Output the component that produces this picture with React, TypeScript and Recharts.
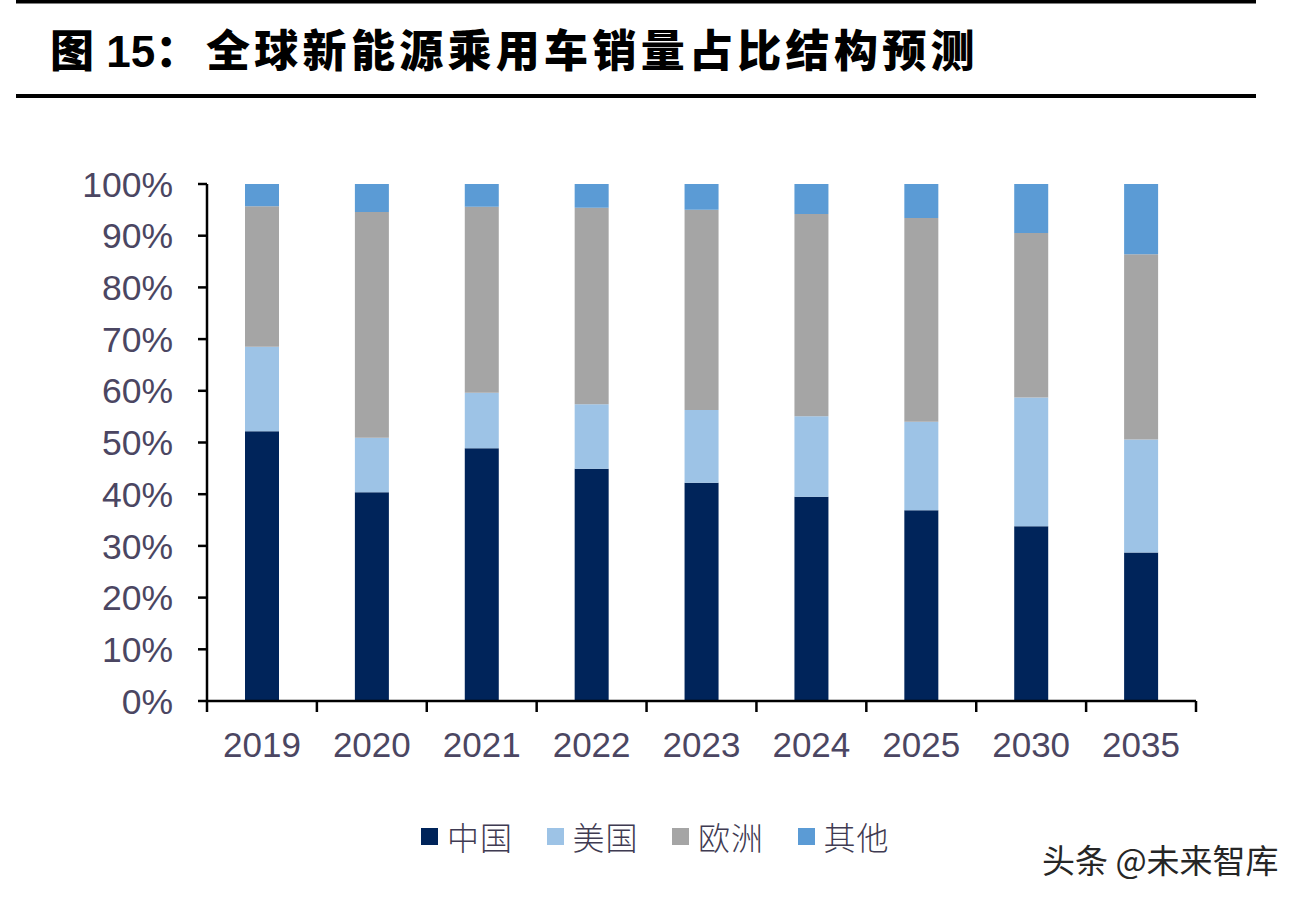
import React from 'react';
import { BarChart, Bar, XAxis, YAxis, Legend } from 'recharts';

const categories = ['2019', '2020', '2021', '2022', '2023', '2024', '2025', '2030', '2035'];
const chinaShare = [52.2, 40.4, 48.9, 44.9, 42.2, 39.5, 36.9, 33.8, 28.7];
const usShare = [16.3, 10.5, 10.7, 12.5, 14.1, 15.6, 17.1, 24.9, 21.9];
const europeShare = [27.2, 43.7, 36.0, 38.0, 38.7, 39.1, 39.4, 31.8, 35.8];
const otherShare = [4.3, 5.4, 4.4, 4.6, 5.0, 5.8, 6.6, 9.5, 13.6];
const yTicks = [0, 10, 20, 30, 40, 50, 60, 70, 80, 90, 100];

const seriesKeys = ['china', 'us', 'europe', 'other'];
const seriesNames = ['中国', '美国', '欧洲', '其他'];
const seriesColors = ['#00245A', '#9DC3E6', '#A5A5A5', '#5B9BD5'];

const titleFigure = '图 15：';
const titleMain = '全球新能源乘用车销量占比结构预测';
const watermark = '头条 @未来智库';

const data = categories.map((year, i) => ({
  year,
  china: chinaShare[i],
  us: usShare[i],
  europe: europeShare[i],
  other: otherShare[i],
}));

const W = 1306;
const H = 902;
const PLOT_LEFT = 207;
const PLOT_RIGHT = 1196;
const PLOT_TOP = 184;
const PLOT_BOTTOM = 701;
const X_AXIS_H = 60;
const BAND = (PLOT_RIGHT - PLOT_LEFT) / categories.length;

const LABEL_COLOR = '#4B4662';
const NUM_FONT = "'Liberation Sans', Arial, sans-serif";
const CJK_FONT = "'Noto Sans CJK SC', sans-serif";

const XTick = (props: any) => {
  const { x, y, payload, index } = props;
  const half = BAND / 2;
  return (
    <g>
      <line x1={x - half} x2={x - half} y1={y} y2={y + 11} stroke="#000" strokeWidth={2.5} />
      {index === categories.length - 1 && (
        <line x1={x + half} x2={x + half} y1={y} y2={y + 11} stroke="#000" strokeWidth={2.5} />
      )}
      <text x={x} y={y + 56} textAnchor="middle" fill={LABEL_COLOR} fontSize={35} fontFamily={NUM_FONT}>
        {payload.value}
      </text>
    </g>
  );
};

const LegendContent = () => (
  <div style={{ position: 'relative', width: W, height: 40 }}>
    {seriesNames.map((name, i) => (
      <div
        key={name}
        style={{
          position: 'absolute',
          left: 421 + i * 125.5,
          top: 0,
          display: 'flex',
          alignItems: 'center',
          height: 40,
        }}
      >
        <div style={{ width: 17, height: 17, background: seriesColors[i], marginRight: 9 }} />
        <span
          style={{
            fontFamily: CJK_FONT,
            fontWeight: 300,
            fontSize: 32,
            color: '#3F3B52',
            lineHeight: '40px',
            letterSpacing: 1,
          }}
        >
          {name}
        </span>
      </div>
    ))}
  </div>
);

export default function App() {
  return (
    <div style={{ position: 'absolute', left: 0, top: 0, width: W, height: H, background: '#fff' }}>
      <BarChart
        width={W}
        height={H}
        data={data}
        margin={{ top: PLOT_TOP, right: W - PLOT_RIGHT, bottom: H - PLOT_BOTTOM - X_AXIS_H, left: 0 }}
        barSize={34}
      >
        <YAxis
          width={PLOT_LEFT}
          domain={[0, 100]}
          ticks={yTicks}
          interval={0}
          tickFormatter={(v: number) => `${v}%`}
          tickSize={9}
          tickMargin={25}
          axisLine={{ stroke: '#000', strokeWidth: 2.5 }}
          tickLine={{ stroke: '#000', strokeWidth: 2.5 }}
          tick={{ fill: LABEL_COLOR, fontSize: 35.5, fontFamily: NUM_FONT }}
        />
        <XAxis
          dataKey="year"
          height={X_AXIS_H}
          interval={0}
          tickLine={false}
          tickSize={0}
          tickMargin={0}
          axisLine={{ stroke: '#000', strokeWidth: 2.5 }}
          tick={(p: any) => <XTick {...p} />}
        />
        {seriesKeys.map((k, i) => (
          <Bar key={k} dataKey={k} name={seriesNames[i]} stackId="a" fill={seriesColors[i]} isAnimationActive={false} />
        ))}
        <Legend
          layout="horizontal"
          verticalAlign="middle"
          align="center"
          wrapperStyle={{ top: 816, left: 0, width: W, height: 40 }}
          content={() => <LegendContent />}
        />
      </BarChart>
      <svg
        width={W}
        height={H}
        style={{ position: 'absolute', left: 0, top: 0, pointerEvents: 'none' }}
      >
        <rect x={16} y={0} width={1240} height={3.5} fill="#000" />
        <rect x={16} y={94} width={1240} height={4} fill="#000" />
        <text y={67} fontSize={44} fontWeight={900} fill="#000" fontFamily={`${NUM_FONT}, ${CJK_FONT}`}>
          <tspan x={50}>{titleFigure}</tspan>
        </text>
        <text x={206} y={67} fontSize={44} fontWeight={900} fill="#000" fontFamily={CJK_FONT} letterSpacing={4.3}>
          {titleMain}
        </text>
        <text x={1042} y={873} fontSize={33} fill="#262626" fontFamily={CJK_FONT}>
          {watermark}
        </text>
      </svg>
    </div>
  );
}
